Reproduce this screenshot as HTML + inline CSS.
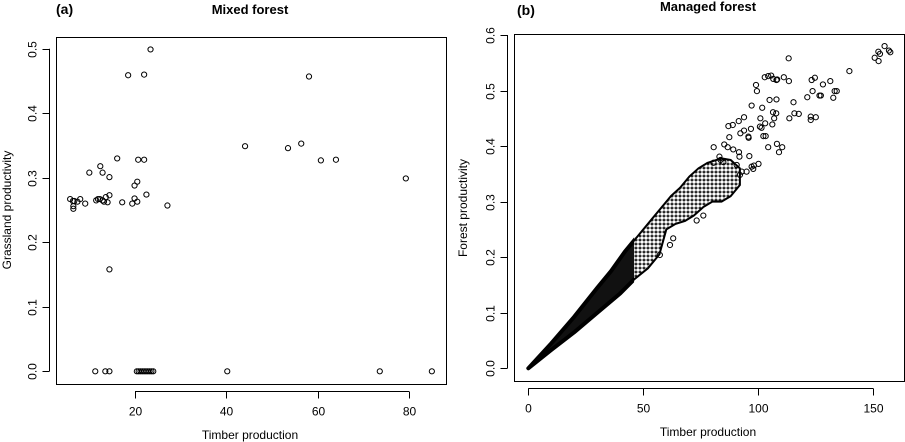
<!DOCTYPE html>
<html><head><meta charset="utf-8"><style>
html,body{margin:0;padding:0;background:#fff;}
svg{display:block;font-family:"Liberation Sans",Arial,sans-serif;}
</style></head><body>
<svg id="chart" width="905" height="442" viewBox="0 0 905 442">
<defs>
<pattern id="rings" width="4" height="4" patternUnits="userSpaceOnUse">
<rect width="4" height="4" fill="#fff"/>
<circle cx="2" cy="2" r="2.3" fill="none" stroke="#000" stroke-width="1"/>
</pattern>
</defs>
</svg>
<script>
// ---------- Panel (a) data: Mixed forest ----------
const mixedTimber = [5.8,6.4,6.7,6.5,6.5,7.4,8.0,9.1,10.0,11.5,11.9,12.3,12.4,12.9,12.9,13.2,13.6,14.0,14.4,14.4,14.4,16.1,17.2,18.5,19.4,19.9,19.9,20.5,20.5,20.7,22.0,22.0,22.5,23.4,27.1,44.1,53.5,56.4,58.1,60.7,64.0,79.3,
 11.3,13.5,14.4,20.4,20.8,21.2,21.6,22.0,22.4,22.8,23.2,23.6,24.0,40.2,73.6,85.0];
const mixedGrass = [0.267,0.264,0.264,0.256,0.252,0.263,0.267,0.260,0.308,0.265,0.267,0.267,0.318,0.308,0.265,0.263,0.270,0.262,0.301,0.273,0.158,0.330,0.262,0.459,0.260,0.288,0.268,0.294,0.263,0.328,0.460,0.328,0.274,0.499,0.257,0.349,0.346,0.353,0.457,0.327,0.328,0.299,
 0,0,0,0,0,0,0,0,0,0,0,0,0,0,0,0];
const mixedXTicks = [20,40,60,80];
const mixedYTicks = [0.0,0.1,0.2,0.3,0.4,0.5];
const mixedYTickLabels = ["0.0","0.1","0.2","0.3","0.4","0.5"];

// ---------- Panel (b) data: Managed forest ----------
const managedTimber = [113.2,99.0,99.4,102.8,104.3,105.6,106.5,107.9,108.2,111.1,113.3,104.9,107.9,115.3,97.1,101.7,100.9,103.0,106.1,106.4,107.8,106.9,113.5,115.7,117.6,121.3,123.6,123.2,124.6,126.6,127.2,128.1,131.3,132.6,133.2,134.1,139.6,122.8,122.8,125.0,150.6,152.2,152.9,152.3,154.9,156.8,157.4,93.8,91.5,87.0,88.9,87.4,92.2,93.8,95.8,95.7,96.8,100.7,101.4,102.2,103.2,104.3,108.1,109.0,110.4,80.6,85.2,86.7,89.1,91.6,91.8,96.1,97.1,98.1,100.1,97.8,80.5,83.1,83.6,84.8,90.6,92.8,94.9,92.0,76.1,73.2,63.0,61.6,57.2];
const managedForest = [0.558,0.51,0.499,0.524,0.526,0.527,0.521,0.519,0.52,0.524,0.517,0.483,0.484,0.479,0.473,0.469,0.45,0.441,0.439,0.461,0.459,0.45,0.45,0.459,0.458,0.488,0.499,0.519,0.523,0.491,0.491,0.511,0.517,0.487,0.499,0.499,0.535,0.453,0.447,0.452,0.559,0.57,0.566,0.553,0.58,0.572,0.569,0.452,0.445,0.436,0.438,0.416,0.423,0.428,0.415,0.417,0.431,0.435,0.433,0.418,0.418,0.398,0.404,0.389,0.398,0.398,0.403,0.398,0.394,0.389,0.381,0.382,0.363,0.365,0.368,0.359,0.37,0.381,0.375,0.371,0.366,0.354,0.354,0.348,0.275,0.266,0.234,0.222,0.204];
// dense band envelopes (timber, productivity)
const denseUpperX = [0,10,20,30,36,42,48,54,58,62,66,70,74,78,84,88,92];
const denseUpperY = [0,0.045,0.093,0.145,0.175,0.21,0.24,0.27,0.29,0.31,0.325,0.345,0.36,0.37,0.378,0.375,0.36];
const denseLowerX = [92,88,84,80,76,72,68,64,60,57,52,46,40,30,20,10,0];
const denseLowerY = [0.33,0.31,0.30,0.30,0.29,0.275,0.265,0.26,0.25,0.205,0.18,0.16,0.135,0.1,0.065,0.033,0];
const solidLimitX = 46;
const managedXTicks = [0,50,100,150];
const managedYTicks = [0,0.1,0.2,0.3,0.4,0.5,0.6];
const managedYTickLabels = ["0.0","0.1","0.2","0.3","0.4","0.5","0.6"];

const NS="http://www.w3.org/2000/svg";
const svg=document.getElementById('chart');
function mk(tag,attrs,parent){const e=document.createElementNS(NS,tag);for(const k in attrs)e.setAttribute(k,attrs[k]);(parent||svg).appendChild(e);return e;}
function txt(s,attrs,parent){const e=mk('text',attrs,parent);e.textContent=s;return e;}

function panel(cfg){
  const g=mk('g',{});
  
  
  const sx=v=>cfg.x0px+(v-cfg.x0v)*cfg.xs;
  const sy=v=>cfg.y0px-(v-cfg.y0v)*cfg.ys;
  const box=mk('rect',{x:cfg.box[0]+0.5,y:cfg.box[1]+0.5,width:cfg.box[2]-cfg.box[0],height:cfg.box[3]-cfg.box[1],fill:'none',stroke:'#000','stroke-width':1},g);
  
  
  const bottom=cfg.box[3]+0.5, left=cfg.box[0]+0.5;
  const xa=mk('g',{},g);
  
  
  mk('line',{x1:sx(cfg.xt[0]),x2:sx(cfg.xt[cfg.xt.length-1]),y1:bottom+7,y2:bottom+7,stroke:'#000'},xa);
  cfg.xt.forEach(t=>{
    const X=Math.round(sx(t))+0.5;
    mk('line',{x1:X,x2:X,y1:bottom+7,y2:bottom+14,stroke:'#000'},xa);
    const l=txt(String(t),{x:X,y:bottom+31,'text-anchor':'middle','font-size':12,fill:'#000'},xa);
    
    
  });
  const ya=mk('g',{},g);
  
  
  mk('line',{x1:left-7,x2:left-7,y1:sy(cfg.yt[0]),y2:sy(cfg.yt[cfg.yt.length-1]),stroke:'#000'},ya);
  cfg.yt.forEach((t,i)=>{
    const Y=Math.round(sy(t))+0.5;
    mk('line',{x1:left-14,x2:left-7,y1:Y,y2:Y,stroke:'#000'},ya);
    const lx=left-20;
    const l=txt(cfg.ytl[i],{x:lx,y:Y,'text-anchor':'middle','font-size':12,fill:'#000',transform:`rotate(-90 ${lx} ${Y})`},ya);
    
    
  });
  const xt=txt('Timber production',{x:cfg.xTitle[0],y:cfg.xTitle[1],'text-anchor':'middle','font-size':12},g);
  
  
  const yt=txt(cfg.yTitleText,{x:cfg.yTitle[0],y:cfg.yTitle[1],'text-anchor':'middle','font-size':12,transform:`rotate(-90 ${cfg.yTitle[0]} ${cfg.yTitle[1]})`},g);
  
  
  const ti=txt(cfg.title,{x:cfg.titlePos[0],y:cfg.titlePos[1],'text-anchor':'middle','font-size':13,'font-weight':'bold'},g);
  
  
  const lb=txt(cfg.label,{x:cfg.labelPos[0],y:cfg.labelPos[1],'font-size':14,'font-weight':'bold'},g);
  
  
  return {g,sx,sy};
}

const A=panel({name:'panel-mixed-forest',box:[56,37,446,384],x0px:135,x0v:20,xs:4.567,y0px:371.3,y0v:0,ys:645,
  xt:mixedXTicks,yt:mixedYTicks,ytl:mixedYTickLabels,xTitle:[250,439],yTitle:[11,210],yTitleText:'Grassland productivity',
  title:'Mixed forest',titlePos:[250,14],label:'(a)',labelPos:[56,14]});
const pa=mk('g',{},A.g);


mixedTimber.forEach((v,i)=>{
  const c=mk('circle',{cx:A.sx(v),cy:A.sy(mixedGrass[i]),r:2.6,fill:'none',stroke:'#000','stroke-width':1},pa);
  
  
});

const B=panel({name:'panel-managed-forest',box:[514,34,904,381],x0px:528.3,x0v:0,xs:2.3,y0px:368.3,y0v:0,ys:555.5,
  xt:managedXTicks,yt:managedYTicks,ytl:managedYTickLabels,xTitle:[708,436],yTitle:[467,208],yTitleText:'Forest productivity',
  title:'Managed forest',titlePos:[708,11],label:'(b)',labelPos:[517,15]});
const pb=mk('g',{},B.g);


let d='';
denseUpperX.forEach((v,i)=>{d+=(i?'L':'M')+B.sx(v)+','+B.sy(denseUpperY[i]);});
denseLowerX.forEach((v,i)=>{d+='L'+B.sx(v)+','+B.sy(denseLowerY[i]);});
d+='Z';
const defs=svg.querySelector('defs');
const cp=mk('clipPath',{id:'solidClip'},defs);
mk('rect',{x:0,y:0,width:B.sx(solidLimitX),height:442},cp);
const band=mk('path',{d:d,fill:'url(#rings)',stroke:'#000','stroke-width':2,'stroke-linejoin':'round'},pb);


const solid=mk('path',{d:d,fill:'#111',stroke:'#000','stroke-width':4,'stroke-linejoin':'round','clip-path':'url(#solidClip)'},pb);


managedTimber.forEach((v,i)=>{
  const c=mk('circle',{cx:B.sx(v),cy:B.sy(managedForest[i]),r:2.6,fill:'none',stroke:'#000','stroke-width':1},pb);
  
  
});
</script>
</body></html>
